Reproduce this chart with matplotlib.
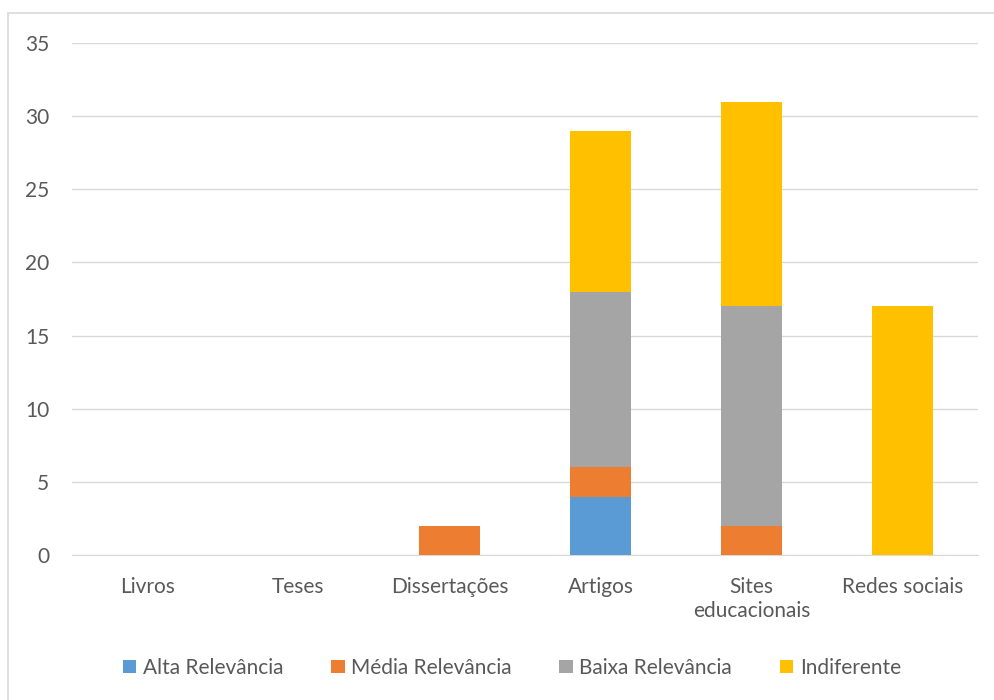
import matplotlib.pyplot as plt
import numpy as np

categorias = ["Livros", "Teses", "Dissertações", "Artigos", "Sites\neducacionais", "Redes sociais"]
series = ["Alta Relevância", "Média Relevância", "Baixa Relevância", "Indiferente"]
alta = [0, 0, 0, 4, 0, 0]
media = [0, 0, 2, 2, 2, 0]
baixa = [0, 0, 0, 12, 15, 0]
indiferente = [0, 0, 0, 11, 14, 17]
cores = ["#5B9BD5", "#ED7D31", "#A5A5A5", "#FFC000"]

plt.rcParams["font.family"] = ["Lato", "DejaVu Sans"]

fig = plt.figure(figsize=(9.94, 7), dpi=100)
ax = fig.add_axes([0.0724, 0.207, 0.9116, 0.7316])

x = np.arange(len(categorias))
base = np.zeros(len(categorias))
for nome, vals, cor in zip(series, [alta, media, baixa, indiferente], cores):
    ax.bar(x, vals, width=0.4, bottom=base, color=cor, label=nome, zorder=3)
    base += np.array(vals)

ax.set_xlim(-0.5, len(categorias) - 0.5)
ax.set_ylim(0, 35)
ax.set_yticks(range(0, 36, 5))
ax.set_xticks(x)
ax.set_xticklabels(categorias, linespacing=1.25)
ax.grid(axis="y", color="#D9D9D9", linewidth=1, zorder=0)
for s in ["top", "right", "left"]:
    ax.spines[s].set_visible(False)
ax.spines["bottom"].set_color("#D9D9D9")
ax.tick_params(axis="both", length=0, labelsize=15, colors="#595959")
ax.tick_params(axis="y", pad=16.5)
ax.tick_params(axis="x", pad=16)

fig.legend(loc="center", bbox_to_anchor=(0.515, 0.046), ncol=4, frameon=False,
           fontsize=15, handlelength=0.65, handleheight=0.65, handletextpad=0.3,
           columnspacing=2.3, labelcolor="#595959")

# moldura do gráfico (só aparecem os lados esquerdo e de cima)
fig.patches.append(plt.Rectangle((0.008, -0.05), 1.1, 0.05 + 1 - 13 / 700, transform=fig.transFigure,
                                 fill=False, edgecolor="#D9D9D9", linewidth=1.2))

fig.savefig("out.png", dpi=100)
